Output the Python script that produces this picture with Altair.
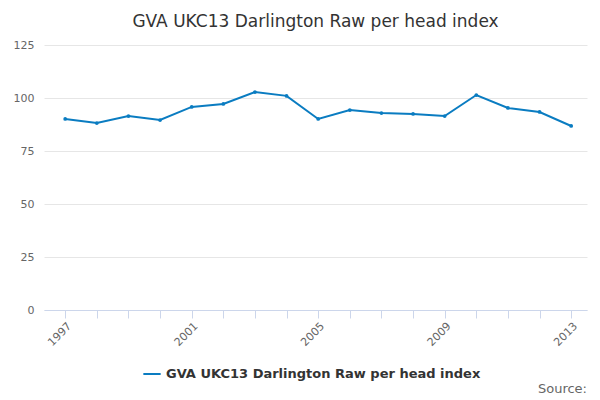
import altair as alt
import pandas as pd

years = list(range(1997, 2014))
values = [90.1, 88.2, 91.5, 89.6, 95.8, 97.2, 102.8, 101.0, 90.1, 94.3, 92.9, 92.5, 91.5, 101.4, 95.3, 93.4, 86.8]
series = "GVA UKC13 Darlington Raw per head index"

df = pd.DataFrame({"year": years, "value": values, "series": series})

base = alt.Chart(df)
line = base.mark_line(point=alt.OverlayMarkDef(size=14, filled=True), strokeWidth=2).encode(
    x=alt.X("year:Q", scale=alt.Scale(domain=[1996.33, 2013.5], nice=False, zero=False),
            axis=alt.Axis(values=years, title=None, grid=False,
                          labelExpr="(datum.value - 1997) % 4 == 0 ? datum.value : ''",
                          labelAngle=-45, labelColor="#666", tickColor="#ccd6eb",
                          domainColor="#ccd6eb", tickSize=8, labelFontSize=11)),
    y=alt.Y("value:Q", scale=alt.Scale(domain=[0, 125]),
            axis=alt.Axis(values=[0, 25, 50, 75, 100, 125], title=None, domain=False, ticks=False,
                          gridColor="#e6e6e6", labelColor="#666", labelFontSize=11, labelPadding=10)),
    color=alt.Color("series:N", scale=alt.Scale(range=["#0a7cc1"]),
                    legend=alt.Legend(orient="none", legendX=98, legendY=54 + 265, title=None,
                                      labelFontSize=13, direction="horizontal",
                                      labelFontWeight="bold", labelColor="#333",
                                      symbolType="stroke", symbolStrokeWidth=2, symbolSize=300,
                                      labelLimit=400)),
)
src = alt.Chart(pd.DataFrame({"t": ["Source:"]})).mark_text(
    align="right", fontSize=13, color="#666", baseline="middle"
).encode(text="t:N", x=alt.value(543), y=alt.value(344))

chart = alt.layer(line, src).properties(
    width=543, height=265,
    title=alt.TitleParams(series, fontSize=17, fontWeight="normal", color="#333", offset=8),
).configure(font="DejaVu Sans").configure_view(stroke=None)

chart.save("out.html", embed_options={"renderer": "svg", "actions": False})
